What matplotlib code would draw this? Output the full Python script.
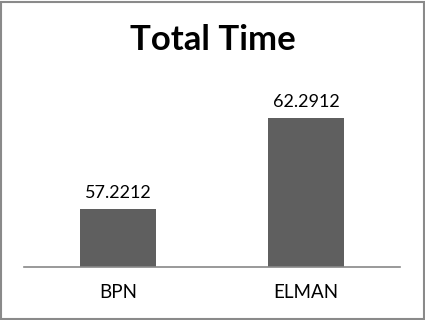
import matplotlib
matplotlib.use("Agg")
from matplotlib import pyplot as plt
from matplotlib.patches import Rectangle

categories = ["BPN", "ELMAN"]
values = [57.2212, 62.2912]
value_labels = ["57.2212", "62.2912"]

plt.rcParams["font.family"] = ["Lato", "DejaVu Sans"]


def main():
    fig = plt.figure(figsize=(4.25, 3.2), dpi=100)
    ax = fig.add_axes([24 / 425, 53 / 320, 376 / 425, 179.5 / 320])

    xs = range(len(categories))
    ax.bar(xs, values, width=0.4, color="#5f5f5f", bottom=0)
    for x, v, lab in zip(xs, values, value_labels):
        ax.text(x, v + 0.45, lab, ha="center", va="bottom", fontsize=13)

    ax.set_xlim(-0.5, 1.5)
    ax.set_ylim(54, 64)
    ax.set_xticks(list(xs))
    ax.set_xticklabels(categories, fontsize=13.5)
    ax.tick_params(axis="x", length=0, pad=12)
    ax.set_yticks([])
    for side in ["left", "right", "top"]:
        ax.spines[side].set_visible(False)
    ax.spines["bottom"].set_color("#888888")
    ax.spines["bottom"].set_linewidth(1.2)

    fig.text(0.5, 1 - 40 / 320, "Total Time", ha="center", va="center",
             fontsize=25, fontweight="bold")

    fig.patches.append(Rectangle((1 / 425, 1 / 320), 423 / 425, 317 / 320,
                                 transform=fig.transFigure, fill=False,
                                 edgecolor="#8a8a8a", linewidth=1.5))
    fig.savefig("out.png", dpi=100)
    plt.close()


if __name__ == "__main__":
    main()
